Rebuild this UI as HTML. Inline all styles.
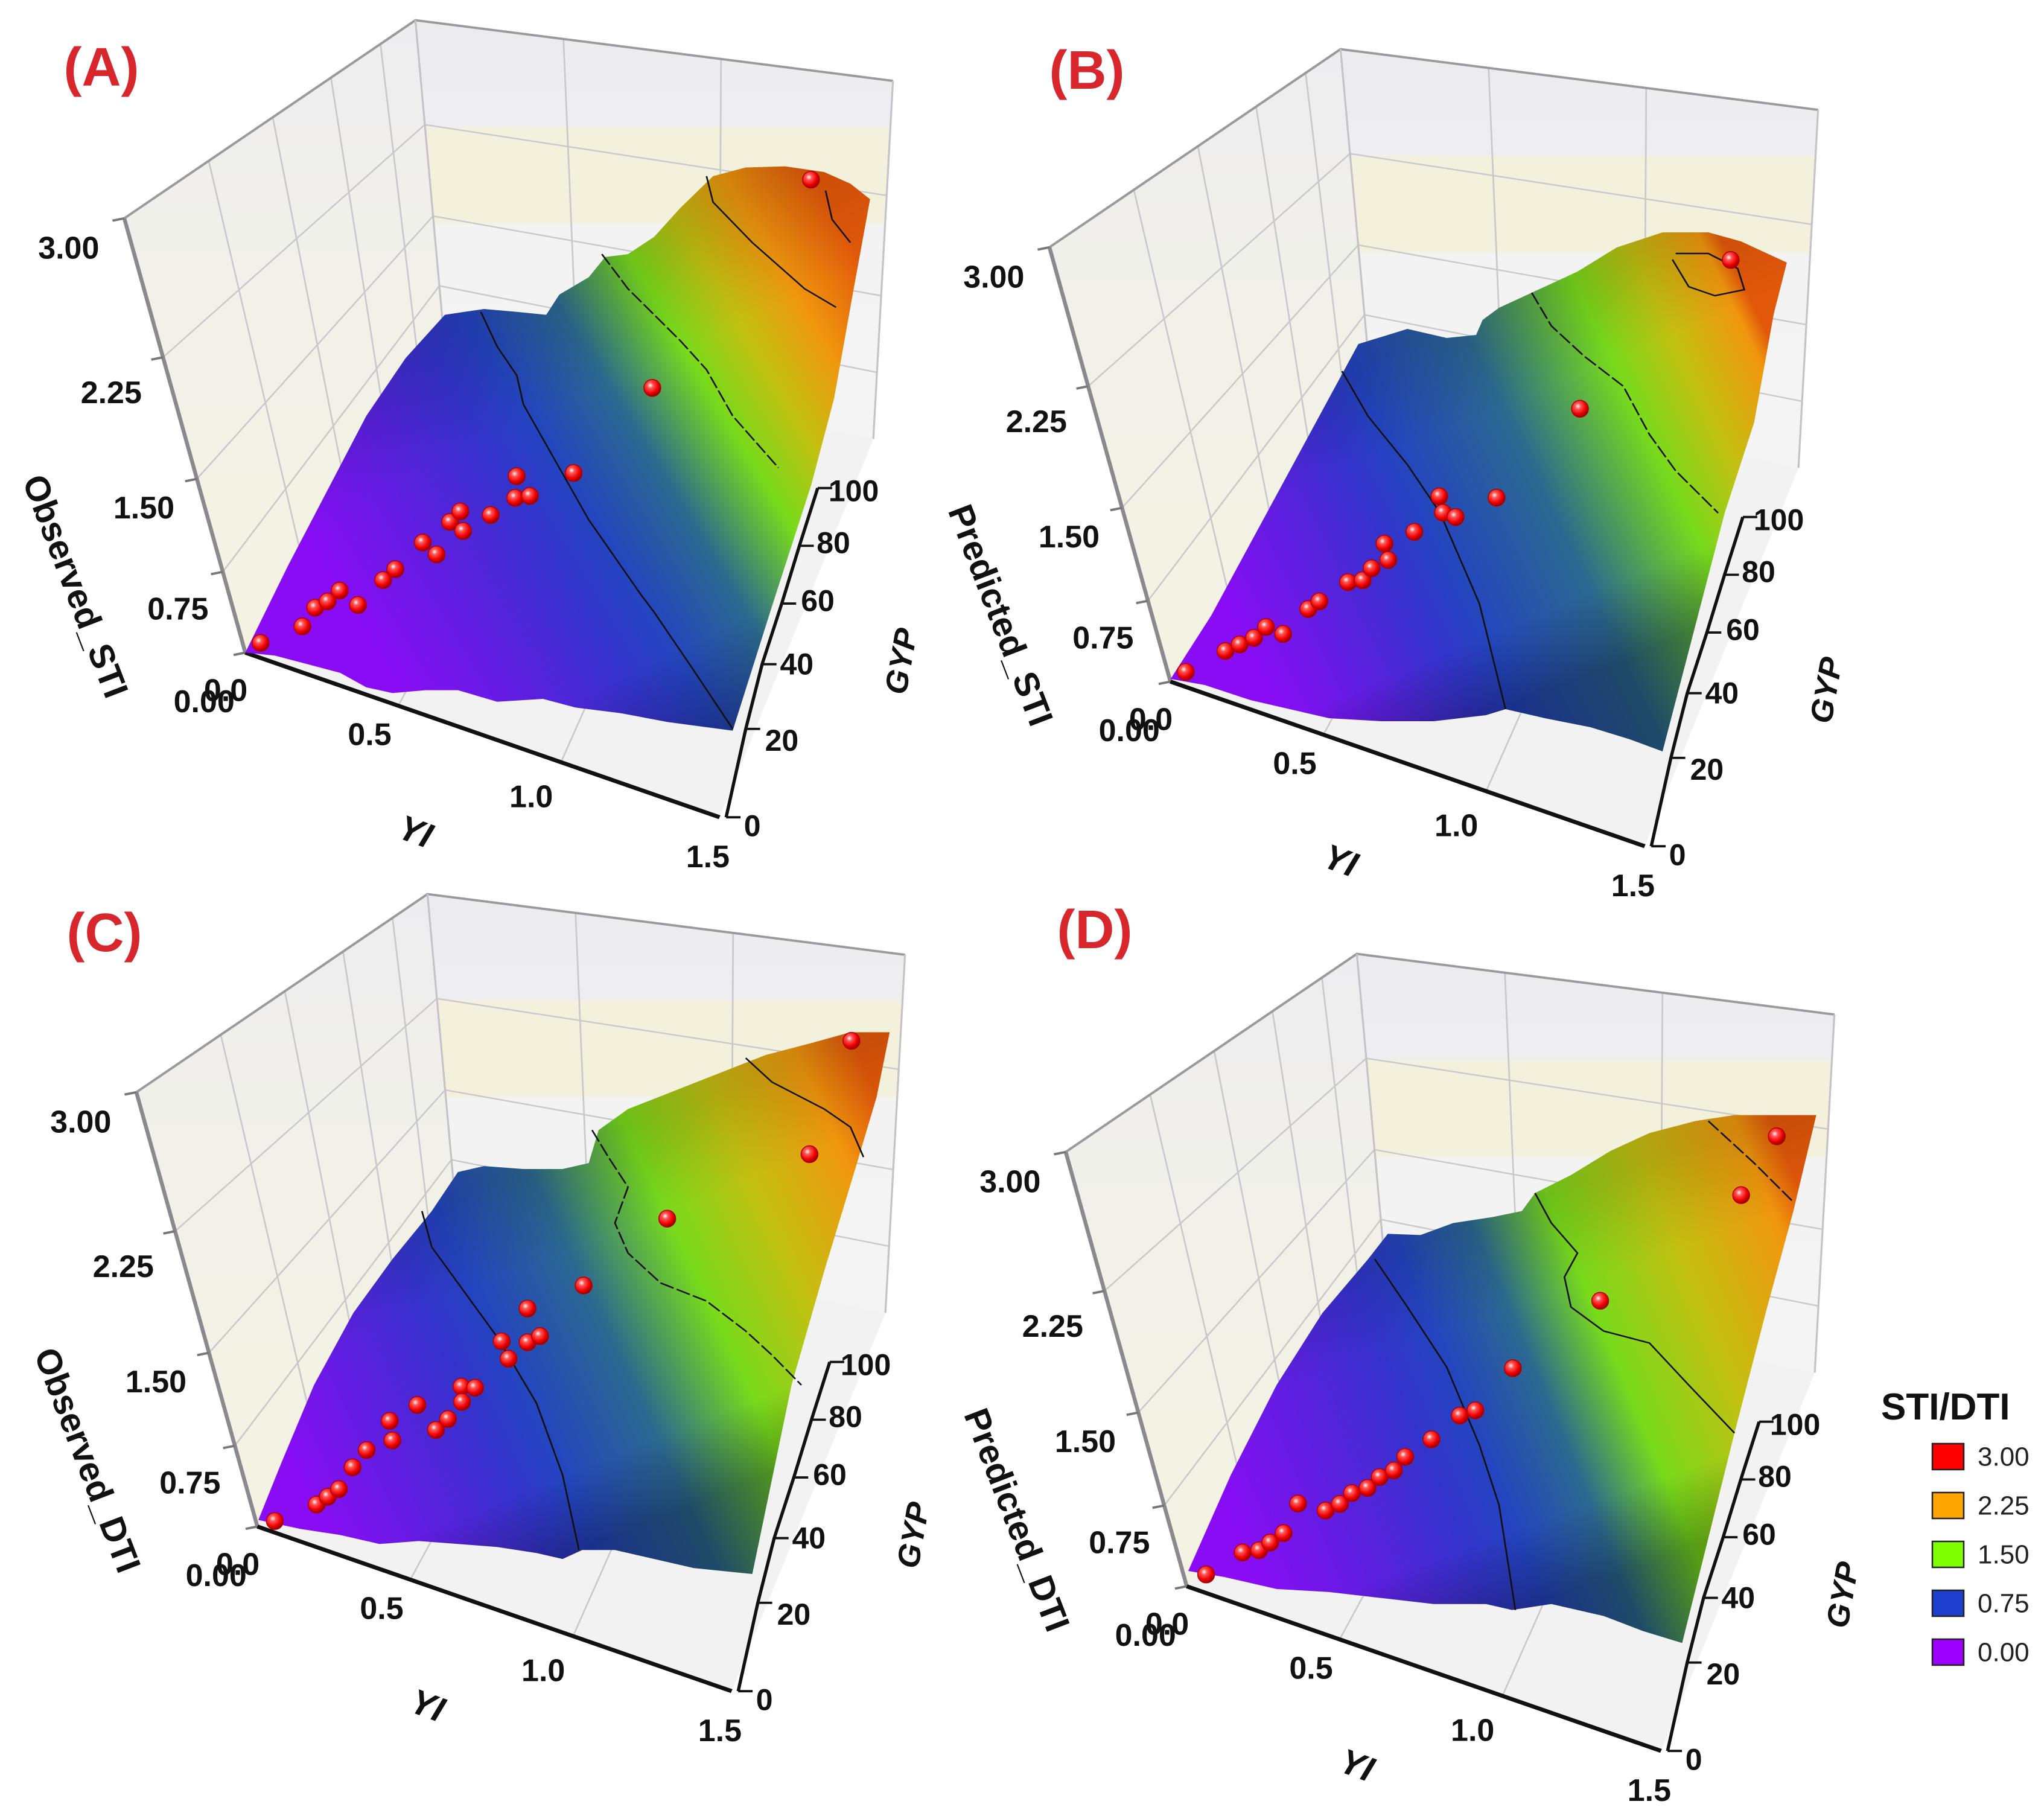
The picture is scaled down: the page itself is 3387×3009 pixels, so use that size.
<!DOCTYPE html>
<html><head><meta charset="utf-8"><style>
html,body{margin:0;padding:0;background:#fff;}
svg{display:block;font-family:"Liberation Sans",Arial,sans-serif;}
</style></head><body>
<svg id="chart" width="3387" height="3009" viewBox="0 0 3387 3009" xmlns="http://www.w3.org/2000/svg">
<defs>
<radialGradient id="dotGrad" cx="0.38" cy="0.35" r="0.65">
<stop offset="0" stop-color="#ffffff"/><stop offset="0.25" stop-color="#ff5a5a"/><stop offset="0.7" stop-color="#f00000"/><stop offset="1" stop-color="#9a0000"/>
</radialGradient>
<linearGradient id="leftWallGrad" x1="0" y1="0" x2="0" y2="1">
<stop offset="0" stop-color="#ededf0"/><stop offset="0.5" stop-color="#f2f1e8"/><stop offset="1" stop-color="#f4f2e2"/>
</linearGradient>
<linearGradient id="backWallGrad" gradientUnits="userSpaceOnUse" x1="0" y1="35" x2="0" y2="760">
<stop offset="0" stop-color="#ececef"/><stop offset="0.25" stop-color="#eeeef0"/><stop offset="0.26" stop-color="#f3f1dc"/><stop offset="0.48" stop-color="#f3f1dc"/><stop offset="0.49" stop-color="#f3f3f3"/><stop offset="1" stop-color="#f4f4f4"/>
</linearGradient>
</defs>
<g id="layer"></g>
</svg>
<script>
// ---- data: dots (YI, GYP, index value) per panel ----
const aYI  = [0.04,0.16,0.19,0.22,0.25,0.31,0.37,0.40,0.46,0.51,0.53,0.55,0.57,0.64,0.69,0.70,0.74,0.86,1.08,1.49];
const aGYP = [3,8,12,15,18,17,24,27,36,34,42,46,42,48,59,54,56,63,77,116];
const aSTI = [0.05,0.2,0.3,0.3,0.35,0.3,0.4,0.45,0.5,0.5,0.6,0.6,0.55,0.6,0.7,0.65,0.65,0.8,1.5,2.9];
const bYI  = [0.04,0.15,0.19,0.23,0.26,0.31,0.37,0.40,0.47,0.51,0.53,0.55,0.57,0.63,0.68,0.70,0.74,0.85,1.09,1.50];
const bGYP = [3,9,11,13,16,17,24,26,33,35,38,45,42,50,60,57,57,64,77,106];
const bSTI = [0.05,0.2,0.25,0.3,0.35,0.3,0.4,0.45,0.5,0.5,0.55,0.6,0.55,0.65,0.75,0.7,0.7,0.8,1.6,2.7];
const cYI  = [0.05,0.17,0.20,0.23,0.26,0.29,0.34,0.36,0.41,0.48,0.51,0.53,0.57,0.54,0.62,0.65,0.68,0.70,0.73,0.84,1.06,1.47,1.55];
const cGYP = [2,7,9,11,16,21,29,25,35,31,34,42,43,39,55,52,63,56,59,70,87,104,125];
const cDTI = [0.05,0.2,0.25,0.3,0.4,0.45,0.55,0.5,0.6,0.55,0.6,0.7,0.7,0.65,0.85,0.8,1.0,0.9,0.9,1.2,1.6,2.2,2.8];
const dYI  = [0.05,0.15,0.20,0.23,0.26,0.29,0.37,0.41,0.44,0.48,0.51,0.55,0.57,0.64,0.71,0.75,0.85,1.09,1.47,1.56];
const dGYP = [4,10,11,13,17,23,25,27,30,33,36,38,43,48,55,58,66,81,107,117];
const dDTI = [0.05,0.2,0.25,0.3,0.3,0.45,0.4,0.45,0.5,0.5,0.55,0.6,0.6,0.7,0.8,0.8,1.1,1.6,2.3,2.7];
// ---- axis tick labels ----
const idxTicks = ["3.00","2.25","1.50","0.75","0.00"];
const yiTicks = ["0.5","1.0","1.5"];
const gypTicks = ["0","20","40","60","80","100"];
const legendLabels = ["3.00","2.25","1.50","0.75","0.00"];
const legendColors = ["#ff0000","#ffa500","#80ff00","#1f3fcf","#9b00ff"];

const NS = "http://www.w3.org/2000/svg";
const layer = document.getElementById('layer');
function mk(tag, attrs, parent){ const e=document.createElementNS(NS,tag); for(const k in attrs) e.setAttribute(k,attrs[k]); (parent||layer).appendChild(e); return e; }
function pts(a){ return a.map(p=>p[0]+','+p[1]).join(' '); }
function lerp(p,q,t){ return [p[0]+(q[0]-p[0])*t, p[1]+(q[1]-p[1])*t]; }

function proj(yi,g,s){ return [375+483*yi+1.5*g-10*s, 1130+190*yi-5.5*g-160*s]; }
function toAbs(sh,p){ return [p[0]*1.084+sh[0], p[1]*0.957+sh[1]]; }

const panels = [
 {key:'a', shift:[0,0], m:[1.084,0.957,0,0], title:'(A)', tpos:[168,112], ytitle:'Observed_STI', yi:aYI, g:aGYP, v:aSTI,
  grad:[500,1000,1366,538], stops:[0.41,0.68,0.88], shade:[735,540,1120,1265],
  surf:[[375,1130],[420,1135],[470,1150],[520,1165],[560,1190],[600,1200],[650,1195],[700,1195],[760,1215],[830,1210],[880,1225],[950,1235],[1020,1250],[1120,1265],[1180,1050],[1240,840],[1275,690],[1305,500],[1330,345],[1300,318],[1260,298],[1200,288],[1140,290],[1090,305],[1040,360],[1000,410],[960,440],[925,445],[900,480],[855,510],[835,545],[790,540],[740,535],[680,545],[620,620],[560,720],[500,850],[440,980]],
  contours:[{d:[[735,540],[760,600],[790,650],[800,700],[850,800],[900,900],[980,1030],[1000,1060],[1060,1160],[1120,1262]],dash:false},
            {d:[[920,440],[960,500],[1000,545],[1040,590],[1080,640],[1120,720],[1190,810]],dash:true},
            {d:[[1080,305],[1090,350],[1150,420],[1230,500],[1278,532]],dash:false},
            {d:[[1262,330],[1272,380],[1300,420]],dash:false}]},
 {key:'b', shift:[1533,48], m:[1.084,1.0,1530,0], title:'(B)', tpos:[1801,117], ytitle:'Predicted_STI', yi:bYI, g:bGYP, v:bSTI,
  grad:[480,1050,1340,666], stops:[0.36,0.75,0.97], shade:[640,615,890,1175],
  surf:[[378,1125],[430,1135],[500,1160],[560,1175],[620,1190],[700,1195],[780,1195],[860,1185],[890,1175],[950,1190],[1020,1205],[1080,1225],[1130,1245],[1225,850],[1270,700],[1300,520],[1320,435],[1290,420],[1250,400],[1200,385],[1130,385],[1060,410],[1000,450],[930,485],[880,510],[855,530],[845,555],[800,560],[740,545],[665,570],[640,620],[580,740],[510,880],[440,1020]],
  contours:[{d:[[640,615],[680,690],[740,770],[790,850],[850,1000],[890,1175]],dash:false},
            {d:[[930,485],[960,540],[1010,590],[1070,640],[1110,720],[1150,780],[1215,850]],dash:true},
            {d:[[1145,430],[1170,475],[1210,490],[1255,480],[1245,445],[1200,420],[1150,420]],dash:false}]},
 {key:'c', shift:[20,1448], m:[1.084,0.994,0,1450], title:'(C)', tpos:[173,1546], ytitle:'Observed_DTI', yi:cYI, g:cGYP, v:cDTI,
  grad:[470,1050,1452,624], stops:[0.35,0.65,0.92], shade:[640,560,885,1125],
  surf:[[395,1075],[460,1090],[520,1100],[580,1115],[640,1110],[700,1115],[760,1120],[820,1130],[860,1140],[890,1125],[940,1125],[1000,1140],[1060,1155],[1150,1165],[1210,850],[1260,660],[1310,480],[1340,370],[1360,262],[1300,262],[1240,280],[1170,300],[1100,330],[1030,360],[960,390],[915,425],[900,480],[860,490],[800,490],[740,485],[700,495],[660,560],[600,640],[540,730],[480,850],[430,980]],
  contours:[{d:[[645,560],[660,620],[700,680],[760,770],[820,880],[860,1000],[885,1125]],dash:false},
            {d:[[905,425],[930,470],[960,520],[940,580],[960,630],[1010,680],[1080,710],[1140,760],[1180,800],[1225,850]],dash:true},
            {d:[[1140,305],[1180,345],[1260,390],[1300,420],[1320,470]],dash:false}]},
 {key:'d', shift:[1560,1547], m:[1.084,0.994,1530,1450], title:'(D)', tpos:[1814,1541], ytitle:'Predicted_DTI', yi:dYI, g:dGYP, v:dDTI,
  grad:[480,1120,1429,755], stops:[0.40,0.64,0.95], shade:[680,640,905,1225],
  surf:[[405,1160],[460,1170],[540,1190],[620,1195],[700,1205],[780,1215],[860,1215],[900,1225],[960,1215],[1040,1235],[1100,1260],[1160,1280],[1240,930],[1290,720],[1330,560],[1365,400],[1300,400],[1240,400],[1180,410],[1110,430],[1050,460],[990,500],[935,530],[915,560],[870,570],[810,580],[760,600],[710,598],[680,640],[610,730],[540,850],[470,1000]],
  contours:[{d:[[690,640],[740,720],[800,820],[850,950],[880,1050],[905,1225]],dash:false},
            {d:[[935,530],[960,580],[1000,630],[980,670],[990,720],[1040,760],[1110,780],[1170,850],[1240,930]],dash:false},
            {d:[[1200,410],[1230,440],[1270,480],[1330,545]],dash:true}]}
];

const FONT = '"Liberation Sans", Arial, sans-serif';

panels.forEach(P=>{
  const sh = P.shift;
  const g = mk('g',{});
  
  
  const box = mk('g',{transform:`matrix(1.084,0,0,0.957,${sh[0]},${sh[1]})`}, g);
  
  
  const LT=[190,378], BK=[635,35], RB=[1365,140], O=[375,1130], YE=[1100,1415], FB=[680,600], FR=[1335,760];
  const lw = mk('polygon',{points:pts([LT,BK,FB,O]), fill:'url(#leftWallGrad)'}, box);
  
  
  const bw = mk('polygon',{points:pts([BK,RB,FR,FB]), fill:'url(#backWallGrad)'}, box);
  
  
  const fl = mk('polygon',{points:pts([O,YE,FR,FB]), fill:'#f2f2f2'}, box);
  
  
  const gridStyle = {stroke:'#c9c9cc','stroke-width':2.5, fill:'none'};
  [0.29,0.51,0.71,0.88].forEach(t=>{
    const a=lerp(LT,BK,t), b=lerp(O,FB,t);
    const l=mk('line',Object.assign({x1:a[0],y1:a[1],x2:b[0],y2:b[1]},gridStyle),box);
    
    
  });
  [0.186,0.40,0.68].forEach(f=>{
    const a=lerp(O,LT,f), b=lerp(FB,BK,f), c=lerp(FR,RB,f);
    const l=mk('polyline',Object.assign({points:pts([a,b,c])},gridStyle),box);
    
    
  });
  [0.31,0.64].forEach(t=>{
    const a=lerp(BK,RB,t), b=lerp(FB,FR,t), c=lerp(O,YE,t*1.04);
    const l=mk('polyline',Object.assign({points:pts([a,b,c])},gridStyle),box);
    
    
  });
  const edge = mk('polyline',{points:pts([LT,BK,RB]), stroke:'#9a9a9e','stroke-width':4, fill:'none'}, box);
  
  
  const edge2 = mk('line',{x1:RB[0],y1:RB[1],x2:FR[0],y2:FR[1], stroke:'#c4c4c8','stroke-width':3}, box);
  
  
  const edge3 = mk('line',{x1:BK[0],y1:BK[1],x2:FB[0],y2:FB[1], stroke:'#c4c4c8','stroke-width':3}, box);
  
  
  const ia = mk('line',{x1:O[0],y1:O[1],x2:LT[0],y2:LT[1], stroke:'#8a8a8e','stroke-width':6}, box);
  
  
  [1,0.68,0.40,0.186,0].forEach(f=>{
    const a=lerp(O,LT,f);
    const t=mk('line',{x1:a[0],y1:a[1],x2:a[0]-18,y2:a[1]+4, stroke:'#777','stroke-width':4}, box);
    
    
  });
  const ya = mk('line',{x1:O[0],y1:O[1],x2:YE[0],y2:YE[1], stroke:'#111','stroke-width':7}, box);
  
  
  const gTickPts=[[1110,1415],[1140,1262],[1165,1150],[1195,1045],[1222,945],[1250,845]];
  const ga = mk('polyline',{points:pts(gTickPts), fill:'none', stroke:'#111','stroke-width':5}, box);
  
  
  gTickPts.forEach(p=>{
    const t=mk('line',{x1:p[0],y1:p[1],x2:p[0]+22,y2:p[1], stroke:'#111','stroke-width':4}, box);
    
    
  });

  const sg = mk('g',{transform:`matrix(${P.m[0]},0,0,${P.m[1]},${P.m[2]},${P.m[3]})`}, g);
  
  
  const defs = document.querySelector('defs');
  const lg = mk('linearGradient',{id:'sg'+P.key, gradientUnits:'userSpaceOnUse', x1:P.grad[0], y1:P.grad[1], x2:P.grad[2], y2:P.grad[3]}, defs);
  const [c1,c2,c3]=P.stops;
  [[0,'#8a0cf5'],[c1*0.45,'#5a20de'],[c1*0.8,'#3434cc'],[c1,'#2444c0'],[(c1+c2)/2,'#2c6890'],[c2,'#78da1c'],[(c2+c3)/2,'#c4c012'],[c3,'#f0960e'],[1,'#e2580a']].forEach(s=>{
    mk('stop',{offset:s[0],'stop-color':s[1]},lg);
  });
  const shg = mk('linearGradient',{id:'sh'+P.key, gradientUnits:'userSpaceOnUse', x1:P.shade[0], y1:P.shade[1], x2:P.shade[2], y2:P.shade[3]}, defs);
  mk('stop',{offset:0,'stop-color':'#000','stop-opacity':0.12},shg);
  mk('stop',{offset:0.25,'stop-color':'#000','stop-opacity':0},shg);
  mk('stop',{offset:0.8,'stop-color':'#000','stop-opacity':0},shg);
  mk('stop',{offset:1,'stop-color':'#000','stop-opacity':0.28},shg);
  const sp = mk('polygon',{points:pts(P.surf), fill:`url(#sg${P.key})`}, sg);
  
  
  const sp2 = mk('polygon',{points:pts(P.surf), fill:`url(#sh${P.key})`}, sg);
  
  
  P.contours.forEach(c=>{
    const attrs={points:pts(c.d), fill:'none', stroke:'#111','stroke-width':2.5};
    if(c.dash) attrs['stroke-dasharray']='22 5';
    const cl = mk('polyline',attrs,sg);
    
    
  });

  for(let i=0;i<P.yi.length;i++){
    const p = toAbs(sh, proj(P.yi[i], P.g[i], P.v[i]));
    const d = mk('circle',{cx:p[0].toFixed(1), cy:p[1].toFixed(1), r:14, fill:'url(#dotGrad)', stroke:'#b00000','stroke-width':1.5}, g);
    
    
  }

  function txt(str, zp, size, opts){
    const p = toAbs(sh, zp);
    const o = opts||{};
    const t = mk('text',{x:p[0].toFixed(1), y:p[1].toFixed(1), 'font-size':size, 'font-weight':o.weight||'bold', 'text-anchor':'middle', 'dominant-baseline':'central', fill:o.fill||'#111', 'font-family':FONT}, g);
    if(o.rot!==undefined) t.setAttribute('transform',`rotate(${o.rot} ${p[0].toFixed(1)} ${p[1].toFixed(1)})`);
    if(o.italic) t.setAttribute('font-style','italic');
    t.textContent = str;
    return t;
  }
  const idxPos=[[105,430],[170,680],[220,880],[272,1055],[312,1215]];
  idxTicks.forEach((s,i)=>{
    const t=txt(s, idxPos[i], 52);
    
    
  });
  const z0 = txt('0.0',[345,1196],52);
  
  
  const yiPos=[[565,1272],[812,1380],[1082,1484]];
  yiTicks.forEach((s,i)=>{
    const t=txt(s, yiPos[i], 52);
    
    
  });
  const gPos=[[1150,1430],[1195,1282],[1218,1150],[1250,1040],[1274,940],[1305,850]];
  gypTicks.forEach((s,i)=>{
    const t=txt(s, gPos[i], 50, {weight:'bold'});
    
    
  });
  const yt = txt(P.ytitle,[115,1015],58,{rot:69});
  
  
  const xt = txt('YI',[635,1440],58,{rot:20, italic:true});
  
  
  const gt = txt('GYP',[1378,1145],52,{rot:-80, italic:true});
  
  

  const title = mk('text',{x:P.tpos[0], y:P.tpos[1], 'font-size':90, 'font-weight':'bold', 'text-anchor':'middle', 'dominant-baseline':'central', fill:'#d8262d', 'font-family':FONT}, g);
  title.textContent = P.title;
  
  
});

const lgG = mk('g',{});


const lt = mk('text',{x:3117, y:2352, 'font-size':62, 'font-weight':'bold', fill:'#111', 'font-family':FONT}, lgG);
lt.textContent = 'STI/DTI';


legendLabels.forEach((s,i)=>{
  const y = 2392 + i*81;
  const r = mk('rect',{x:3202, y:y, width:52, height:43, fill:legendColors[i], stroke:'#222','stroke-width':2.5}, lgG);
  
  
  const t = mk('text',{x:3277, y:y+22, 'font-size':44, fill:'#222', 'dominant-baseline':'central', 'font-family':FONT}, lgG);
  t.textContent = s;
  
  
});
</script>
</body></html>
